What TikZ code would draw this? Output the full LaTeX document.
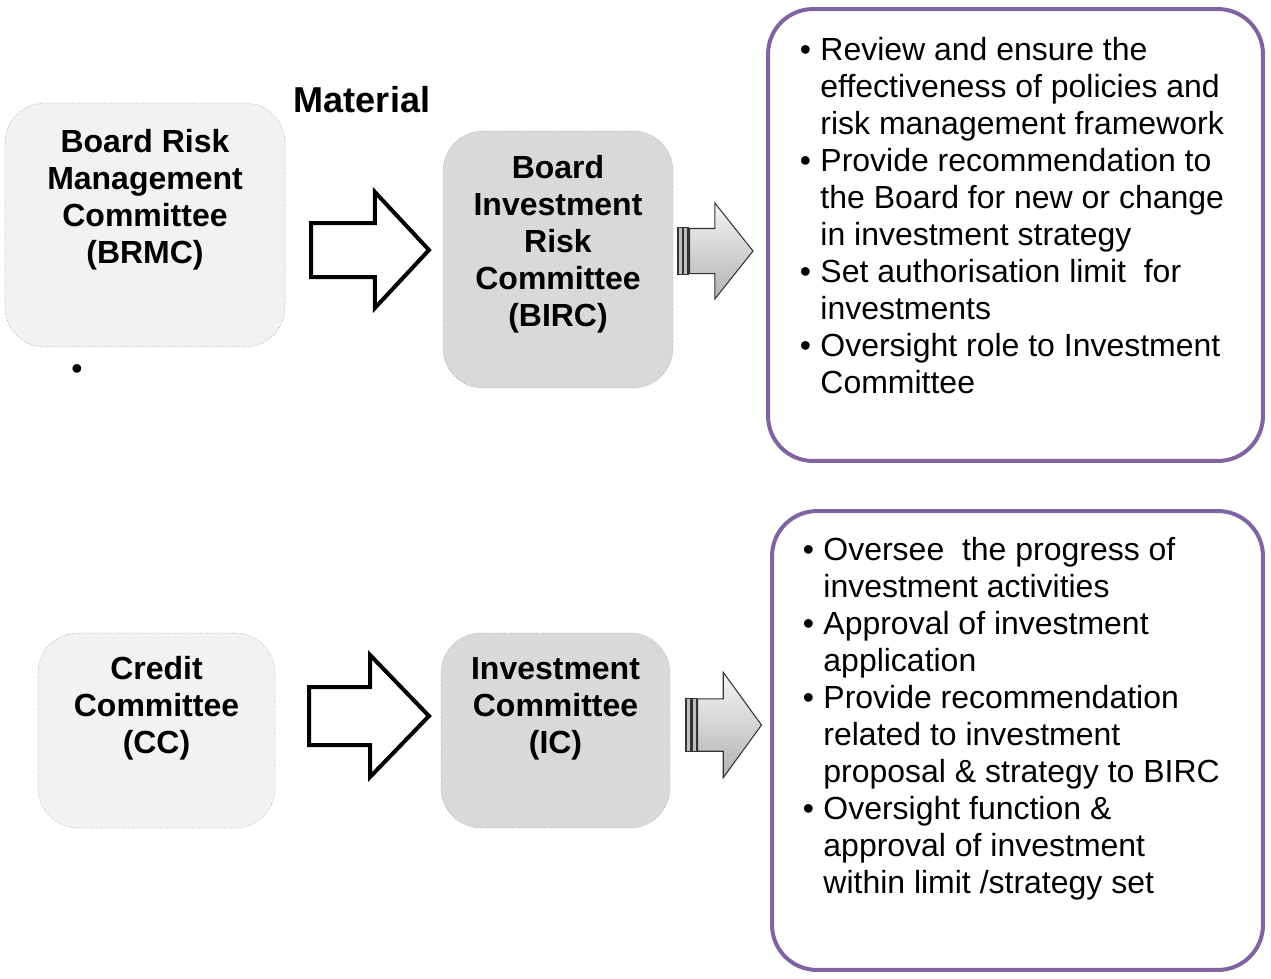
\documentclass[tikz,border=0pt]{standalone}
\usepackage{fontspec}
\setmainfont{Liberation Sans}
\usepackage{tikz}
\usetikzlibrary{shapes.arrows, calc}
\definecolor{boxpurple}{RGB}{128,100,162}
\definecolor{softgray}{RGB}{242,242,242}
\definecolor{midgray}{RGB}{217,217,217}
\newcommand{\bodyfont}{\fontsize{18.2}{21.05}\selectfont}

\begin{document}
\begin{tikzpicture}[
    x=0.02cm, y=-0.02cm,
    softbox/.style={rectangle, rounded corners=0.8cm, draw=black!35, densely dotted, line width=0.4pt},
    boxtext/.style={inner sep=0pt, anchor=north, font=\bodyfont\bfseries},
    listbox/.style={rectangle, rounded corners=0.9cm, draw=boxpurple, line width=0.08cm},
    listtext/.style={inner sep=0pt, anchor=north west, font=\bodyfont},
    bigarrow/.style={single arrow, draw=black, fill=white, line width=0.08cm, inner xsep=0pt, anchor=tail, single arrow head indent=0pt},
    smallarrow/.style={single arrow, draw=black!80, top color=black!4, bottom color=black!30, line width=0.6pt, inner xsep=0pt, anchor=tail},
    stripe/.style={draw=black!80, fill=black!25, line width=0.6pt}
]
    \useasboundingbox (0,0) rectangle (1271,978);

    % Board level
    \node[softbox, fill=softgray, minimum width=5.6cm, minimum height=4.88cm] (brmc) at (145,225) {};
    \node[boxtext] (brmc-text) at (145,126) {\begin{tabular}{@{}c@{}}Board Risk\\Management\\Committee\\(BRMC)\end{tabular}};
    \node[font=\bodyfont] (stray-dot) at (77,372) {•};

    \node[font=\fontsize{20.5}{24}\selectfont\bfseries] (material) at (362,100) {Material};

    \node[softbox, fill=midgray, minimum width=4.6cm, minimum height=5.14cm] (birc) at (558,259.5) {};
    \node[boxtext] (birc-text) at (558,152.4) {\begin{tabular}{@{}c@{}}Board\\Investment\\Risk\\Committee\\(BIRC)\end{tabular}};

    \node[bigarrow, inner ysep=0.5cm, minimum height=2.36cm, minimum width=2.24cm, single arrow head extend=0.62cm, single arrow tip angle=94] (board-arrow) at (309,250) {};

    \node[smallarrow, inner ysep=0.44cm, minimum height=1.27cm, minimum width=1.91cm, single arrow head extend=0.51cm, single arrow tip angle=103] (birc-arrow) at (689,251) {};
    \draw[stripe] ($(birc-arrow.before tail)+(-11,0)$) rectangle ($(birc-arrow.after tail)+(-6.6,0)$);
    \draw[stripe] ($(birc-arrow.before tail)+(-5.3,0)$) rectangle ($(birc-arrow.after tail)+(-1,0)$);

    \node[listbox, minimum width=9.9cm, minimum height=9.04cm] (birc-duties) at (1015.5,235) {};
    \node[listtext] (birc-list) at (799.4,34.1) {\begin{tabular}{@{}l@{\hspace{0.19cm}}l@{}}
        • & Review and ensure the\\
          & effectiveness of policies and\\
          & risk management framework\\
        • & Provide recommendation to\\
          & the Board for new or change\\
          & in investment strategy\\
        • & Set authorisation limit~ for\\
          & investments\\
        • & Oversight role to Investment\\
          & Committee
    \end{tabular}};

    % Management level
    \node[softbox, fill=softgray, minimum width=4.74cm, minimum height=3.9cm] (cc) at (156.5,730.5) {};
    \node[boxtext] (cc-text) at (156.5,653.6) {\begin{tabular}{@{}c@{}}Credit\\Committee\\(CC)\end{tabular}};

    \node[softbox, fill=midgray, minimum width=4.58cm, minimum height=3.9cm] (ic) at (555.5,730.5) {};
    \node[boxtext] (ic-text) at (555.5,653.6) {\begin{tabular}{@{}c@{}}Investment\\Committee\\(IC)\end{tabular}};

    \node[bigarrow, inner ysep=0.54cm, minimum height=2.4cm, minimum width=2.36cm, single arrow head extend=0.64cm, single arrow tip angle=92] (mgmt-arrow) at (307,716) {};

    \node[smallarrow, inner ysep=0.514cm, minimum height=1.28cm, minimum width=2.08cm, single arrow head extend=0.53cm, single arrow tip angle=108] (ic-arrow) at (697,725) {};
    \draw[stripe] ($(ic-arrow.before tail)+(-11,0)$) rectangle ($(ic-arrow.after tail)+(-6.3,0)$);
    \draw[stripe] ($(ic-arrow.before tail)+(-5,0)$) rectangle ($(ic-arrow.after tail)+(-0.8,0)$);

    \node[listbox, minimum width=9.82cm, minimum height=9.18cm] (ic-duties) at (1017.5,740.5) {};
    \node[listtext] (ic-list) at (802.4,534.1) {\begin{tabular}{@{}l@{\hspace{0.19cm}}l@{}}
        • & Oversee~ the progress of\\
          & investment activities\\
        • & Approval of investment\\
          & application\\
        • & Provide recommendation\\
          & related to investment\\
          & proposal \& strategy to BIRC\\
        • & Oversight function \&\\
          & approval of investment\\
          & within limit /strategy set
    \end{tabular}};
\end{tikzpicture}
\end{document}
